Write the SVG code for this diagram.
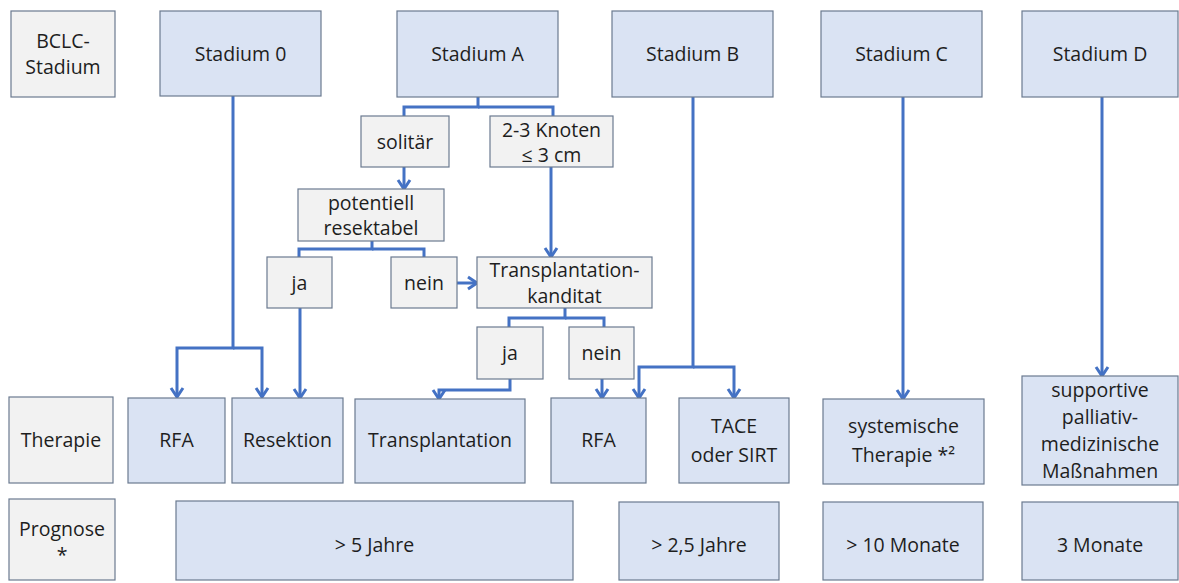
<svg xmlns="http://www.w3.org/2000/svg" width="1179" height="583" viewBox="0 0 1179 583">
<defs>
<style>
.g{fill:#F2F2F2;stroke:#6B7A90;stroke-width:1.2}
.b{fill:#DAE3F3;stroke:#6B7A90;stroke-width:1.2}
text{font-family:"Open Sans","Noto Sans","Liberation Sans",sans-serif;font-size:19.5px;fill:#1e1e1e;text-anchor:middle}
.c{fill:none;stroke:#4472C4;stroke-width:3;stroke-linejoin:miter}
.a{marker-end:url(#ah)}
</style>
<marker id="ah" markerUnits="userSpaceOnUse" markerWidth="16" markerHeight="16" viewBox="0 0 16 16" refX="13" refY="8" orient="auto">
<path d="M4,2 L13,8 L4,14" fill="none" stroke="#4472C4" stroke-width="3"/>
</marker>
</defs>
<rect width="1179" height="583" fill="#fff"/>

<g id="connectors">
<path class="c a" d="M233 96 V348 H177 V397"/>
<path class="c a" d="M233 348 H262 V397"/>
<path class="c" d="M478 97 V107 H404 V116"/>
<path class="c" d="M478 107 H553 V116"/>
<path class="c a" d="M404 167 V189"/>
<path class="c a" d="M551 167 V257"/>
<path class="c" d="M372 241 V249 H299 V257"/>
<path class="c" d="M372 249 H424 V257"/>
<path class="c a" d="M457 283 H477"/>
<path class="c a" d="M300 308 V398"/>
<path class="c" d="M565 308 V318 H509 V327"/>
<path class="c" d="M565 318 H604 V327"/>
<path class="c a" d="M510 379 V390 H439 V399"/>
<path class="c a" d="M602 379 V398"/>
<path class="c a" d="M693 97 V367 H639 V398"/>
<path class="c a" d="M693 367 H734 V398"/>
<path class="c a" d="M903 97 V399"/>
<path class="c a" d="M1102 97 V376"/>
</g>

<g id="bclc"><rect class="g" x="11" y="11" width="104" height="86"/><text x="63" y="48">BCLC-</text><text x="63" y="74">Stadium</text></g>
<g id="stadium0"><rect class="b" x="160" y="11" width="161" height="85"/><text x="240.5" y="61">Stadium 0</text></g>
<g id="stadiumA"><rect class="b" x="397" y="11" width="161" height="86"/><text x="477.5" y="61">Stadium A</text></g>
<g id="stadiumB"><rect class="b" x="612" y="11" width="161" height="86"/><text x="692.5" y="61">Stadium B</text></g>
<g id="stadiumC"><rect class="b" x="821" y="11" width="161" height="86"/><text x="901.5" y="61">Stadium C</text></g>
<g id="stadiumD"><rect class="b" x="1022" y="11" width="156" height="86"/><text x="1100" y="61">Stadium D</text></g>

<g id="solitaer"><rect class="g" x="361" y="116" width="88" height="51"/><text x="405" y="149">solitär</text></g>
<g id="knoten"><rect class="g" x="490" y="116" width="123" height="51"/><text x="551.5" y="137">2-3 Knoten</text><text x="551.5" y="162">≤ 3 cm</text></g>
<g id="resektabel"><rect class="g" x="298" y="189" width="146" height="52"/><text x="371" y="210">potentiell</text><text x="371" y="235">resektabel</text></g>
<g id="ja1"><rect class="g" x="267" y="257" width="65" height="51"/><text x="299.5" y="290">ja</text></g>
<g id="nein1"><rect class="g" x="391" y="257" width="66" height="51"/><text x="424" y="290">nein</text></g>
<g id="kandidat"><rect class="g" x="477" y="257" width="175" height="51"/><text x="564.5" y="277">Transplantation-</text><text x="564.5" y="303">kanditat</text></g>
<g id="ja2"><rect class="g" x="477" y="327" width="66" height="52"/><text x="510" y="360">ja</text></g>
<g id="nein2"><rect class="g" x="569" y="327" width="65" height="52"/><text x="601.5" y="360">nein</text></g>

<g id="therapie"><rect class="g" x="9" y="397" width="104" height="86"/><text x="61" y="447">Therapie</text></g>
<g id="rfa1"><rect class="b" x="128" y="398" width="97" height="85"/><text x="176.5" y="447">RFA</text></g>
<g id="resektion"><rect class="b" x="232" y="398" width="111" height="85"/><text x="287.5" y="447">Resektion</text></g>
<g id="transplantation"><rect class="b" x="355" y="399" width="170" height="84"/><text x="440" y="447">Transplantation</text></g>
<g id="rfa2"><rect class="b" x="551" y="398" width="95" height="85"/><text x="598.5" y="447">RFA</text></g>
<g id="tace"><rect class="b" x="679" y="398" width="110" height="85"/><text x="734" y="433">TACE</text><text x="734" y="462">oder SIRT</text></g>
<g id="systemisch"><rect class="b" x="823" y="399" width="161" height="85"/><text x="903.5" y="433">systemische</text><text x="903.5" y="462">Therapie *²</text></g>
<g id="supportiv"><rect class="b" x="1022" y="376" width="156" height="109"/><text x="1100" y="397">supportive</text><text x="1100" y="424">palliativ-</text><text x="1100" y="451">medizinische</text><text x="1100" y="478">Maßnahmen</text></g>

<g id="prognose"><rect class="g" x="9" y="499" width="106" height="81"/><text x="62" y="536">Prognose</text><text x="62" y="562">*</text></g>
<g id="p5"><rect class="b" x="176" y="501" width="397" height="79"/><text x="374.5" y="552">&gt; 5 Jahre</text></g>
<g id="p25"><rect class="b" x="619" y="502" width="160" height="78"/><text x="699" y="552">&gt; 2,5 Jahre</text></g>
<g id="p10"><rect class="b" x="823" y="502" width="160" height="78"/><text x="903" y="552">&gt; 10 Monate</text></g>
<g id="p3"><rect class="b" x="1022" y="502" width="156" height="78"/><text x="1100" y="552">3 Monate</text></g>
</svg>
